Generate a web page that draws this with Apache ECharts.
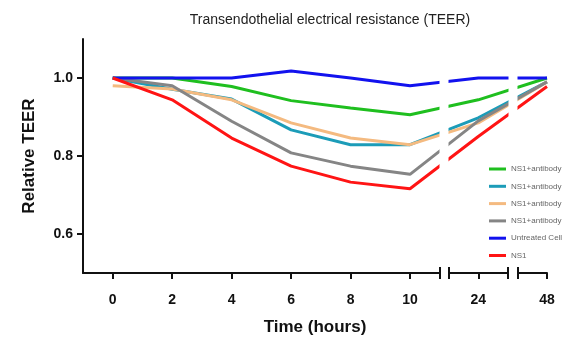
<!DOCTYPE html>
<html>
<head>
<meta charset="utf-8">
<script src="https://cdn.jsdelivr.net/npm/echarts@6/dist/echarts.min.js"></script>
<style>
  html, body { margin: 0; padding: 0; background: #fff; }
  #chart { width: 562px; height: 337px; }
</style>
</head>
<body>
<div id="chart"></div>
<script>
// time points (hours) and relative TEER per group
const hours = [0, 2, 4, 6, 8, 10, 24, 48];
const seriesNames = ["NS1+antibody A", "NS1+antibody B", "NS1+antibody C", "NS1+antibody D", "Untreated Cells", "NS1"];
const greenVals = [1.0, 1.0, 0.978, 0.942, 0.923, 0.906, 0.944, 1.0];
const tealVals = [1.0, 0.971, 0.946, 0.867, 0.829, 0.829, 0.898, 0.99];
const orangeVals = [0.98, 0.972, 0.944, 0.885, 0.846, 0.829, 0.885, 0.99];
const grayVals = [1.0, 0.98, 0.889, 0.808, 0.774, 0.753, 0.89, 0.99];
const blueVals = [1.0, 1.0, 1.0, 1.018, 1.0, 0.98, 1.0, 1.0];
const redVals = [1.0, 0.944, 0.846, 0.774, 0.733, 0.716, 0.85, 0.978];
const xLabels = [0, 2, 4, 6, 8, 10, 24, 48];
const breakEnds = [11, 23, 25, 47];
const yLabels = [0.6, 0.8, 1.0];

const colors = ["#1fbf1f", "#1c9cb8", "#f4ba80", "#858585", "#1212ee", "#ff1414"];
const allVals = [greenVals, tealVals, orangeVals, grayVals, blueVals, redVals];

const font = "Liberation Sans, Arial, sans-serif";
const breaks = [
  { start: 11, end: 23, gap: "1.9%" },
  { start: 25, end: 47, gap: "2%" }
];
const breakArea = {
  show: true,
  zigzagAmplitude: 0,
  zigzagZ: 5,
  itemStyle: { color: "#fff", borderWidth: 0, opacity: 1 }
};

const chart = echarts.init(document.getElementById("chart"), null, { renderer: "canvas" });

chart.setOption({
  animation: false,
  textStyle: { fontFamily: font },
  title: {
    text: "Transendothelial electrical resistance (TEER)",
    left: 325,
    textAlign: "center",
    top: 8,
    textStyle: { fontSize: 14, fontWeight: "normal", color: "#222", fontFamily: font }
  },
  grid: { left: 83, right: 15, top: 39, bottom: 64, outerBoundsMode: "none" },
  legend: {
    orient: "vertical",
    left: 484,
    top: 159,
    z: 200,
    icon: "rect",
    itemWidth: 17,
    itemHeight: 3,
    itemGap: 7.3,
    textStyle: { fontSize: 8, color: "#666", fontFamily: font, lineHeight: 10 },
    data: seriesNames
  },
  xAxis: [
    {
      type: "value",
      min: -1,
      max: 48,
      z: 10,
      breaks: breaks,
      breakArea: breakArea,
      name: "Time (hours)",
      nameLocation: "middle",
      nameGap: 46,
      nameTextStyle: { fontSize: 17, fontWeight: "bold", color: "#111", fontFamily: font },
      axisLine: { show: true, onZero: false, lineStyle: { color: "#111", width: 2 } },
      axisTick: {
        show: true, length: 6, lineStyle: { color: "#111", width: 2 },
        customValues: xLabels.concat(breakEnds)
      },
      axisLabel: {
        customValues: xLabels,
        fontSize: 14, fontWeight: "bold", color: "#111", margin: 20, fontFamily: font
      },
      splitLine: { show: false }
    },
    {
      type: "value",
      min: -1,
      max: 48,
      z: 12,
      position: "bottom",
      breaks: breaks,
      breakArea: { show: false },
      axisLine: { show: false, onZero: false },
      axisTick: {
        show: true, inside: true, length: 6, lineStyle: { color: "#111", width: 2 },
        customValues: breakEnds
      },
      axisLabel: { show: false },
      splitLine: { show: false }
    }
  ],
  yAxis: {
    type: "value",
    min: 0.5,
    max: 1.1,
    name: "Relative TEER",
    nameLocation: "middle",
    nameGap: 45,
    nameTextStyle: { fontSize: 17, fontWeight: "bold", color: "#111", fontFamily: font },
    axisLine: { show: true, onZero: false, lineStyle: { color: "#111", width: 2 } },
    axisTick: { show: true, length: 6, lineStyle: { color: "#111", width: 2 }, customValues: yLabels },
    axisLabel: {
      customValues: yLabels,
      formatter: (v) => v.toFixed(1),
      fontSize: 14, fontWeight: "bold", color: "#111", margin: 10, fontFamily: font
    },
    splitLine: { show: false }
  },
  series: seriesNames.map((name, i) => ({
    name: name,
    type: "line",
    xAxisIndex: 0,
    symbol: "none",
    color: colors[i],
    lineStyle: { width: 3, color: colors[i] },
    data: hours.map((h, j) => [h, allVals[i][j]])
  }))
});
</script>
</body>
</html>
